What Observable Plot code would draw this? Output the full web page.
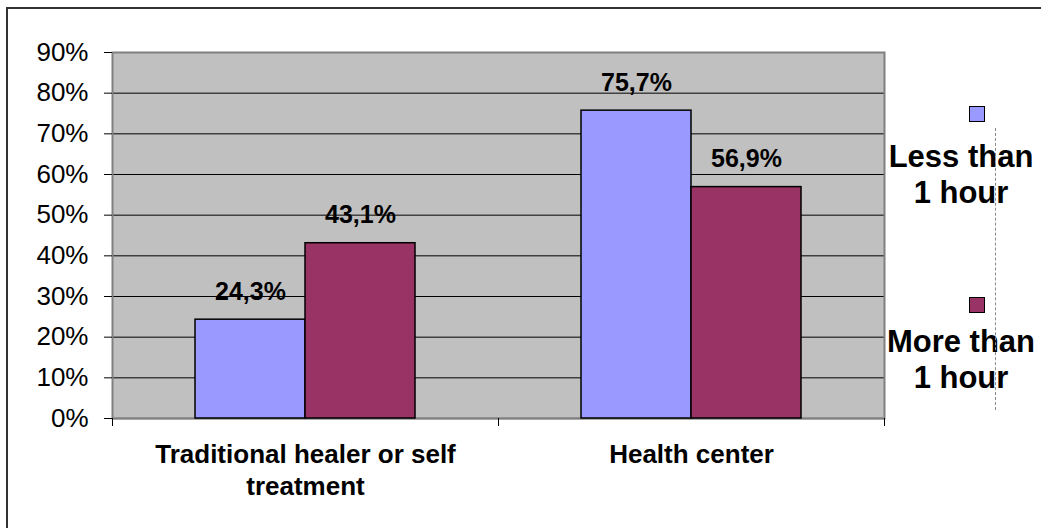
<!DOCTYPE html>
<html><head><meta charset="utf-8">
<script src="https://cdn.jsdelivr.net/npm/d3@7"></script>
<script src="https://cdn.jsdelivr.net/npm/@observablehq/plot@0.6"></script>
<style>
body{margin:0;background:#fff;font-family:"Liberation Sans",Arial,sans-serif;}
#wrap{position:relative;width:1041px;height:528px;overflow:hidden;}
#wrap svg{position:absolute;left:0;top:0;}
#outer{position:absolute;left:6px;top:7px;width:1034px;height:600px;border-top:2px solid #333;border-left:2px solid #333;}
.leg{position:absolute;left:880px;width:162px;text-align:center;font-weight:bold;font-size:31px;line-height:36px;color:#000;white-space:pre;}
.sw{position:absolute;left:969px;width:14px;height:14px;border:1.5px solid #000;}
#dash{position:absolute;left:995px;top:128px;height:282px;border-left:1px dashed #8a8a8a;}
</style></head><body><div id="wrap"><div id="outer"></div></div>
<script>
const categories = ["Traditional healer or self treatment", "Health center"];
const categoryLabels = ["Traditional healer or self\ntreatment", "Health center"];
const series = ["Less than 1 hour", "More than 1 hour"];
const legendLabels = ["Less than\n1 hour", "More than\n1 hour"];
const lessThanHour = [24.3, 75.7];
const moreThanHour = [43.1, 56.9];
const yTicks = [0, 10, 20, 30, 40, 50, 60, 70, 80, 90];
const colors = ["#9999FF", "#993366"];

const rows = [];
categories.forEach((c, i) => {
  rows.push({category: c, series: series[0], value: lessThanHour[i]});
  rows.push({category: c, series: series[1], value: moreThanHour[i]});
});

const W = 1041, H = 528, ML = 112, MR = 157, MT = 52, MB = 110;
const bw = (W - ML - MR) / categories.length;
const barW = 110;
const gap = bw / 2 - barW;
const fmt = v => v.toFixed(1).replace(".", ",") + "%";

const A = rows.filter(d => d.series === series[0]);
const B = rows.filter(d => d.series === series[1]);

const chart = Plot.plot({
  width: W, height: H,
  marginLeft: ML, marginRight: MR, marginTop: MT, marginBottom: MB,
  style: {fontFamily: "Liberation Sans, Arial, sans-serif", background: "transparent", color: "#000", overflow: "visible"},
  x: {type: "band", domain: categories, padding: 0, label: null},
  y: {domain: [0, 90], label: null},
  marks: [
    Plot.frame({fill: "#c0c0c0"}),
    Plot.ruleY(yTicks.filter(t => t > 0 && t < 90), {stroke: "#000", strokeWidth: 1}),
    Plot.ruleY([0], {stroke: "#444", strokeWidth: 1.5}),
    Plot.frame({stroke: "#808080", strokeWidth: 2}),
    Plot.barY(A, {x: "category", y: "value", fill: colors[0], stroke: "#000", strokeWidth: 1.5, insetLeft: gap, insetRight: bw / 2}),
    Plot.barY(B, {x: "category", y: "value", fill: colors[1], stroke: "#000", strokeWidth: 1.5, insetLeft: bw / 2, insetRight: gap}),
    Plot.text(A, {x: "category", y: "value", text: d => fmt(d.value), dx: -barW / 2, dy: -20, lineAnchor: "bottom", fontSize: 25, fontWeight: "bold", fill: "#000"}),
    Plot.text(B, {x: "category", y: "value", text: d => fmt(d.value), dx: barW / 2, dy: -20, lineAnchor: "bottom", fontSize: 25, fontWeight: "bold", fill: "#000"}),
    Plot.axisY({ticks: yTicks, tickSize: 8, tickPadding: 16, tickFormat: d => d + "%", fontSize: 26, stroke: "#000", fill: "#000"}),
    Plot.axisX({tickSize: 8, tickFormat: () => "", dx: -bw / 2, stroke: "#000"}),
    Plot.axisX({tickSize: 8, tickFormat: () => "", dx: bw / 2, stroke: "#000"}),
    Plot.axisX({tickSize: 0, tickPadding: 22, fontSize: 26, fontWeight: "bold", lineHeight: 1.23, fill: "#000",
      tickFormat: d => categoryLabels[categories.indexOf(d)]})
  ]
});
const wrap = document.getElementById("wrap");
wrap.appendChild(chart);

// legend (HTML, right side)
const legTops = [138.6, 323.6];
const swTops = [106, 297];
series.forEach((s, i) => {
  const sw = document.createElement("div");
  sw.className = "sw";
  sw.style.top = swTops[i] + "px";
  sw.style.background = colors[i];
  wrap.appendChild(sw);
  const t = document.createElement("div");
  t.className = "leg";
  t.style.top = legTops[i] + "px";
  t.textContent = legendLabels[i];
  wrap.appendChild(t);
});
const dash = document.createElement("div");
dash.id = "dash";
wrap.appendChild(dash);
</script>
</body></html>
